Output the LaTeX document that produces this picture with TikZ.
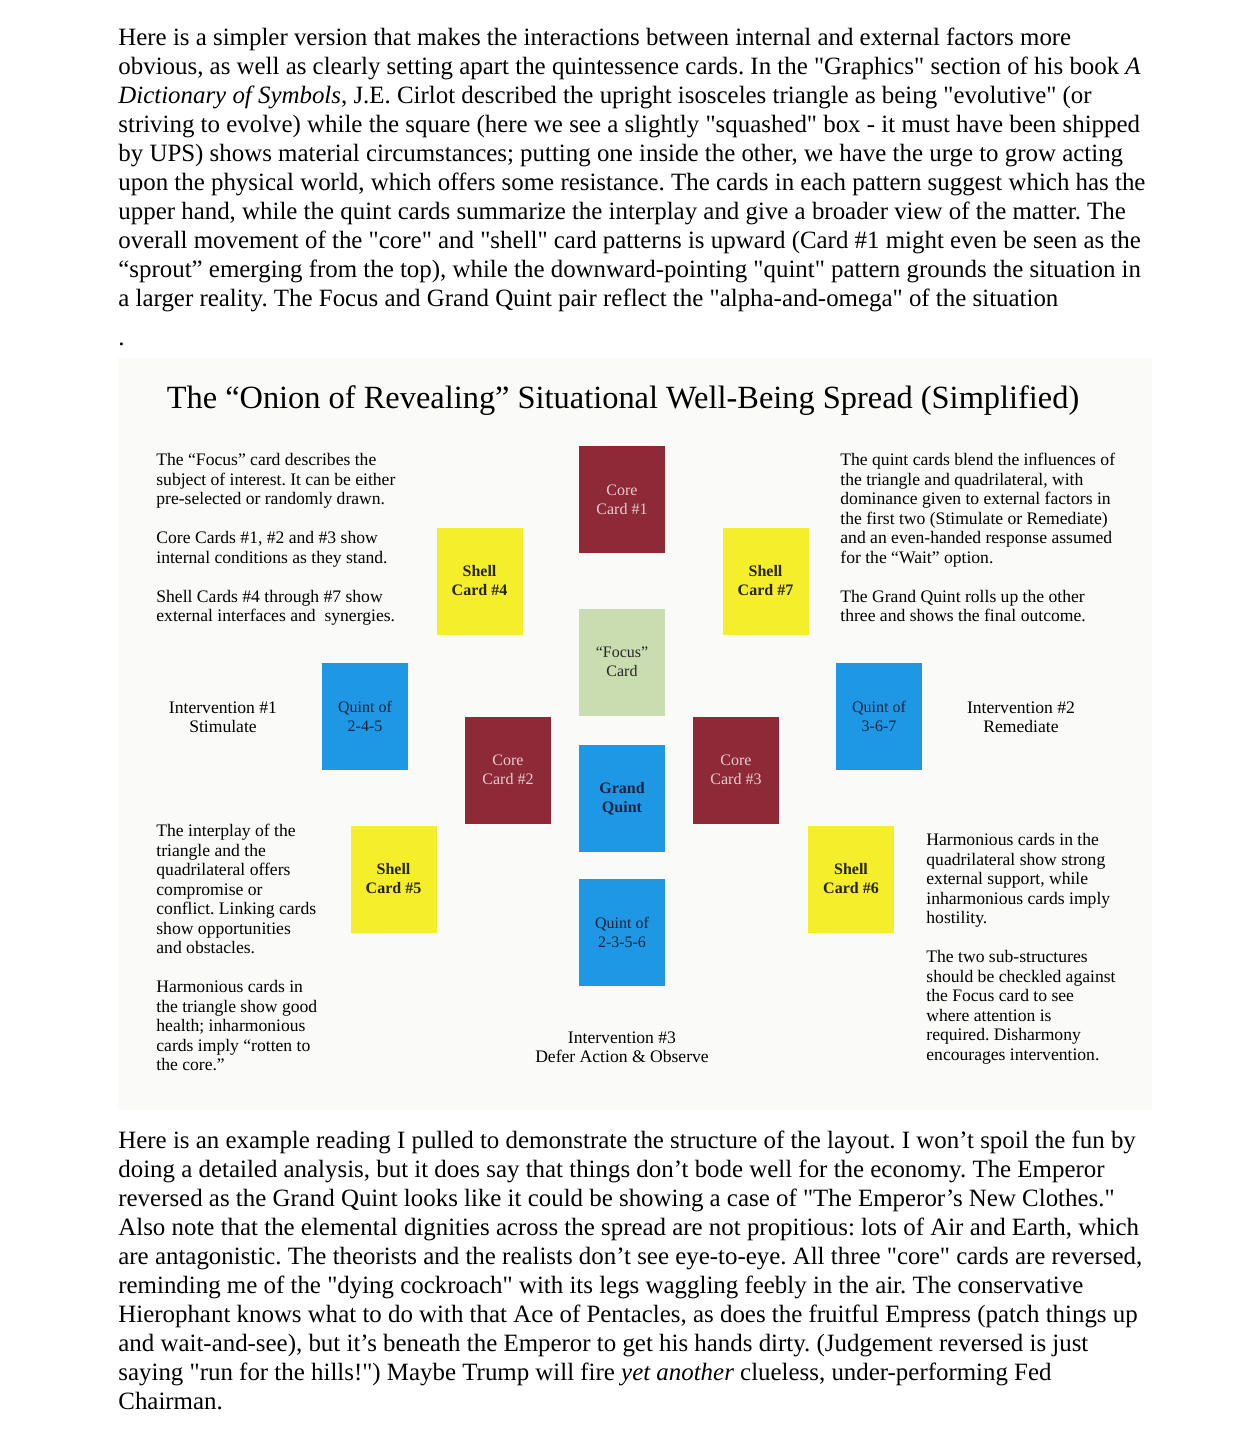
\documentclass[tikz,border=0pt]{standalone}
\usepackage{fontspec}
\setmainfont{Liberation Serif}
\frenchspacing
\definecolor{onred}{HTML}{8E2A37}
\definecolor{onpink}{HTML}{E8CDD0}
\definecolor{onyellow}{HTML}{F5EE2A}
\definecolor{onblue}{HTML}{1E98E4}
\definecolor{ongreen}{HTML}{C9DDB1}
\definecolor{onnavy}{HTML}{18223E}
\definecolor{onink}{HTML}{26240E}
\definecolor{onpanel}{HTML}{FAFAF9}
\newcommand{\dq}{\textquotedbl}
\usetikzlibrary{positioning}

\begin{document}
\begin{tikzpicture}[x=0.5pt,y=-0.5pt,
  card/.style={minimum width=43pt,minimum height=53.5pt,inner sep=0pt,align=center,
    font=\fontsize{8}{9.5}\selectfont},
  core/.style={card,fill=onred,text=onpink},
  shell/.style={card,fill=onyellow,text=onink,font=\fontsize{8}{9.5}\selectfont\bfseries},
  quint/.style={card,fill=onblue,text=onnavy},
  focus/.style={card,fill=ongreen,text=black!85},
  note/.style={align=left,inner sep=0pt,font=\fontsize{8.8}{9.75}\selectfont},
  body/.style={align=left,inner sep=0pt,font=\fontsize{12.45}{14.45}\selectfont}]
\useasboundingbox[fill=white] (0,0) rectangle (1259,1435);
% text above the spread
\node[body,anchor=north west] (intro) at (118,28) {Here is a simpler version that makes the interactions between internal and external factors more\\
obvious, as well as clearly setting apart the quintessence cards. In the \dq Graphics\dq{} section of his book \emph{A}\\
\emph{Dictionary of Symbols}, J.E. Cirlot described the upright isosceles triangle as being \dq evolutive\dq{} (or\\
striving to evolve) while the square (here we see a slightly \dq squashed\dq{} box - it must have been shipped\\
by UPS) shows material circumstances; putting one inside the other, we have the urge to grow acting\\
upon the physical world, which offers some resistance. The cards in each pattern suggest which has the\\
upper hand, while the quint cards summarize the interplay and give a broader view of the matter. The\\
overall movement of the \dq core\dq{} and \dq shell\dq{} card patterns is upward (Card \#1 might even be seen as the\\
“sprout” emerging from the top), while the downward-pointing \dq quint\dq{} pattern grounds the situation in\\
a larger reality. The Focus and Grand Quint pair reflect the \dq alpha-and-omega\dq{} of the situation};
\node[body,anchor=north west] (dot) at (118,343) {.};
% the spread
\fill[onpanel] (118,358) rectangle (1152,1110);
\node[font=\fontsize{16.2}{19}\selectfont] (title) at (623,401)
  {The “Onion of Revealing” Situational Well-Being Spread (Simplified)};
\node[core] (c1) at (622,499.5) {Core\\Card \#1};
\node[shell] (s4) at (479.5,581) {Shell\\Card \#4};
\node[shell] (s7) at (765.5,581) {Shell\\Card \#7};
\node[focus] (focus) at (622,662) {“Focus”\\Card};
\node[quint] (q245) at (365,716.5) {Quint of\\2-4-5};
\node[quint] (q367) at (879,716.5) {Quint of\\3-6-7};
\node[core] (c2) at (508,770) {Core\\Card \#2};
\node[core] (c3) at (736,770) {Core\\Card \#3};
\node[quint,font=\fontsize{8}{9.5}\selectfont\bfseries] (grand) at (622,798.5) {Grand\\Quint};
\node[shell] (s5) at (393.5,879) {Shell\\Card \#5};
\node[shell] (s6) at (851,879) {Shell\\Card \#6};
\node[quint] (q2356) at (622,932.5) {Quint of\\2-3-5-6};
% notes round the cards
\node[note,anchor=north west] (nleft) at (156,453) {The “Focus” card describes the\\
subject of interest. It can be either\\
pre-selected or randomly drawn.\\[9.75pt]
Core Cards \#1, \#2 and \#3 show\\
internal conditions as they stand.\\[9.75pt]
Shell Cards \#4 through \#7 show\\
external interfaces and\ \ synergies.};
\node[note,anchor=north west] (nright) at (840,453) {The quint cards blend the influences of\\
the triangle and quadrilateral, with\\
dominance given to external factors in\\
the first two (Stimulate or Remediate)\\
and an even-handed response assumed\\
for the “Wait” option.\\[9.75pt]
The Grand Quint rolls up the other\\
three and shows the final outcome.};
\node[note,align=center] (i1) at (223,717) {Intervention \#1\\Stimulate};
\node[note,align=center] (i2) at (1021,717) {Intervention \#2\\Remediate};
\node[note,anchor=north west] (nlow) at (156,824) {The interplay of the\\
triangle and the\\
quadrilateral offers\\
compromise or\\
conflict. Linking cards\\
show opportunities\\
and obstacles.\\[9.75pt]
Harmonious cards in\\
the triangle show good\\
health; inharmonious\\
cards imply “rotten to\\
the core.”};
\node[note,anchor=north west] (nlowr) at (926,833) {Harmonious cards in the\\
quadrilateral show strong\\
external support, while\\
inharmonious cards imply\\
hostility.\\[9.75pt]
The two sub-structures\\
should be checkled against\\
the Focus card to see\\
where attention is\\
required. Disharmony\\
encourages intervention.};
\node[note,align=center] (i3) at (622,1047) {Intervention \#3\\Defer Action \& Observe};
% text below the spread
\node[body,anchor=north west] (reading) at (118,1131) {Here is an example reading I pulled to demonstrate the structure of the layout. I won't spoil the fun by\\
doing a detailed analysis, but it does say that things don't bode well for the economy. The Emperor\\
reversed as the Grand Quint looks like it could be showing a case of \dq The Emperor's New Clothes.\dq\\
Also note that the elemental dignities across the spread are not propitious: lots of Air and Earth, which\\
are antagonistic. The theorists and the realists don't see eye-to-eye. All three \dq core\dq{} cards are reversed,\\
reminding me of the \dq dying cockroach\dq{} with its legs waggling feebly in the air. The conservative\\
Hierophant knows what to do with that Ace of Pentacles, as does the fruitful Empress (patch things up\\
and wait-and-see), but it's beneath the Emperor to get his hands dirty. (Judgement reversed is just\\
saying \dq run for the hills!\dq) Maybe Trump will fire \emph{yet another} clueless, under-performing Fed\\
Chairman.};
\end{tikzpicture}
\end{document}
